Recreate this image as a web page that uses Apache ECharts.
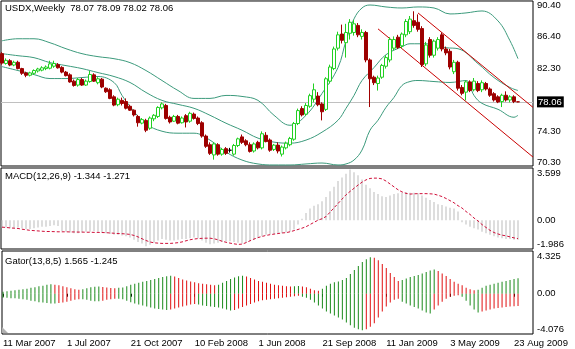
<!DOCTYPE html>
<html><head><meta charset="utf-8">
<script src="https://cdn.jsdelivr.net/npm/echarts@6/dist/echarts.min.js"></script>
<style>html,body{margin:0;padding:0;background:#fff;}#c{width:575px;height:349px;}</style>
</head><body><div id="c"></div>
<script>
// weekly candles: [open, close, low, high]
const candles = [
[84.20,83.00,82.80,84.40],[82.95,83.35,82.80,83.60],[83.30,82.75,82.60,83.50],[82.75,83.10,82.60,83.30],[83.10,82.30,82.20,83.30],
[82.30,81.70,81.50,82.40],[81.75,81.45,81.20,81.90],[81.45,81.75,81.30,81.90],[81.70,82.05,81.50,82.20],[82.00,82.25,81.80,82.40],
[82.10,82.40,81.95,82.60],[82.30,82.50,82.10,82.70],[82.35,82.90,82.20,83.30],[82.60,82.95,82.40,83.30],[82.80,82.40,82.30,83.00],
[82.45,81.85,81.70,82.60],[81.85,81.40,81.30,82.00],[81.50,80.60,80.50,81.70],[80.70,80.15,80.00,80.90],[80.20,80.90,80.00,81.10],
[80.90,80.20,80.10,81.10],[80.20,80.70,80.10,80.90],[80.65,81.55,80.50,82.00],[81.50,80.70,80.60,81.70],[80.50,81.00,80.30,81.20],
[80.95,79.95,79.80,81.10],[79.80,79.35,79.20,79.90],[79.60,78.50,78.40,79.80],[78.70,77.65,77.50,78.90],[77.70,78.40,77.50,78.60],
[78.25,77.85,77.60,78.60],[78.10,77.25,77.10,78.50],[77.50,77.00,76.90,77.70],[77.00,76.40,76.20,77.10],[76.20,75.40,74.90,76.40],
[75.35,75.80,75.20,76.00],[75.70,74.45,74.20,75.90],[74.70,76.00,74.50,76.20],[75.90,76.35,75.60,76.50],[76.20,77.35,76.00,77.50],
[77.30,77.80,77.10,78.00],[77.60,75.95,75.80,77.80],[76.10,75.50,75.30,76.30],[75.60,76.20,75.50,76.40],[76.20,75.35,75.20,76.40],
[75.40,76.00,75.30,76.20],[76.30,75.50,74.80,76.50],[75.60,76.60,75.40,76.80],[76.50,75.95,75.80,76.70],[76.00,75.30,75.10,76.20],
[75.40,73.70,73.50,75.60],[73.70,72.40,72.20,73.90],[72.60,71.50,71.30,72.90],[71.30,72.70,70.70,72.90],[72.60,71.40,71.20,72.80],
[71.40,72.00,71.20,72.20],[72.10,71.50,71.30,72.30],[71.90,71.90,71.60,72.20],[71.40,72.50,71.20,72.70],[72.50,73.35,72.30,73.50],
[73.60,72.90,72.70,73.90],[73.10,72.60,72.40,73.30],[72.60,71.75,71.60,72.90],[71.80,72.70,71.60,72.90],[72.90,72.20,72.00,73.10],
[72.20,74.00,72.00,74.30],[73.80,73.00,72.90,74.20],[73.20,71.90,71.70,73.40],[72.00,72.55,71.80,72.70],[72.55,71.80,71.50,72.90],
[71.40,72.30,71.10,72.50],[72.20,72.80,72.00,73.00],[72.60,73.40,72.40,73.60],[73.30,75.30,73.10,75.50],[75.30,76.95,75.10,77.20],
[77.20,76.40,76.20,77.50],[76.50,77.60,76.30,77.90],[77.50,78.85,77.30,79.10],[78.40,79.60,78.00,80.40],[78.80,77.70,77.50,79.30],
[77.80,76.80,75.70,78.00],[77.10,81.00,76.90,81.20],[80.70,82.50,80.40,82.80],[82.30,84.80,82.10,85.10],[84.90,86.60,84.60,87.00],
[86.70,85.90,85.50,87.90],[85.60,86.90,83.70,88.00],[86.80,88.20,86.00,88.60],[86.90,88.00,86.50,88.50],[87.80,86.60,86.30,88.10],
[86.40,86.90,86.00,87.30],[86.90,83.40,83.10,87.10],[83.40,81.00,77.40,83.60],[81.20,80.50,80.20,81.40],[80.40,81.10,79.50,81.40],
[81.20,82.70,81.00,82.90],[82.60,83.70,82.30,84.00],[83.40,86.00,83.10,86.30],[84.90,86.00,84.60,86.40],[86.30,85.00,84.80,86.60],
[85.20,86.70,84.90,86.90],[86.60,88.30,86.30,88.60],[87.00,88.60,86.70,89.00],[88.40,87.80,87.50,89.60],[88.20,87.30,87.00,89.20],
[87.40,82.80,82.50,87.70],[82.90,85.30,82.60,85.70],[86.00,84.00,83.70,86.30],[84.00,85.80,83.70,86.00],[84.90,86.00,84.60,86.30],
[86.60,84.80,84.50,86.90],[84.80,84.30,84.00,85.10],[84.50,82.50,82.20,84.80],[81.90,83.10,81.60,83.40],[83.10,79.80,79.50,83.30],
[79.90,79.15,78.90,80.20],[79.30,80.60,78.25,80.80],[80.60,79.50,79.30,80.80],[79.60,80.70,79.40,81.10],[80.40,79.50,79.30,80.70],
[79.60,80.50,79.30,80.80],[80.40,79.70,79.50,80.60],[79.70,78.90,78.70,79.90],[79.10,78.30,78.10,79.30],[78.70,78.05,77.90,78.90],
[78.10,78.90,77.40,79.10],[78.90,78.30,78.10,79.40],[78.30,78.70,78.00,78.90],[78.70,78.10,77.90,78.90],[78.07,78.06,78.02,78.09]
];

// Bollinger band readings: [bar index, price]
const bbUpper = [[0,85.84],[4,86.10],[8,86.10],[12,85.59],[16,84.83],[20,84.20],[24,83.82],[28,83.56],[32,83.06],[36,82.05],[40,80.78],[44,79.51],[48,78.50],[52,78.50],[56,78.88],[60,78.75],[64,78.25],[68,76.35],[72,75.08],[76,76.35],[80,79.13],[84,82.43],[86,85.84],[88,88.63],[90,90.02],[92,90.40],[96,90.15],[100,90.02],[104,90.15],[108,90.02],[112,89.26],[116,89.39],[120,89.64],[124,88.37],[127,85.84],[129,83.56]];
const bbMiddle = [[0,84.20],[4,83.94],[8,83.69],[12,83.06],[16,82.68],[20,82.30],[24,81.79],[28,81.29],[32,80.53],[36,79.26],[40,78.25],[44,77.74],[48,77.24],[52,76.35],[56,75.34],[60,74.45],[64,73.44],[68,72.93],[72,72.80],[76,73.19],[80,74.20],[84,75.72],[86,77.24],[88,78.88],[90,80.78],[93,82.43],[96,84.07],[100,85.08],[102,85.46],[106,85.46],[111,84.96],[114,84.83],[119,82.93],[123,81.16],[127,79.89],[129,79.51]];
const bbLower = [[0,82.55],[4,82.05],[8,81.54],[12,81.03],[16,81.03],[20,81.16],[24,81.29],[28,80.53],[30,78.88],[32,77.49],[34,76.22],[36,75.21],[40,74.32],[44,74.07],[48,74.07],[52,73.19],[56,71.67],[60,70.65],[64,70.15],[68,70.02],[72,70.02],[76,70.15],[80,70.27],[84,70.02],[86,70.15],[88,70.65],[90,71.92],[92,74.45],[94,75.72],[96,77.36],[98,78.63],[100,80.15],[102,80.65],[104,80.78],[108,80.65],[112,80.53],[116,80.78],[118,78.88],[120,77.87],[124,77.11],[128,76.10],[129,76.35]];

// trend channel (two parallel red lines): [bar index, price]
const channelUpper = [[104,89.39],[132.75,77.36]];
const channelLower = [[94,87.36],[132.75,71.03]];

// MACD(12,26,9)
const macdMain = [
-0.50,-0.50,-0.55,-0.55,-0.50,-0.55,-0.60,-0.60,-0.55,-0.50,-0.45,-0.45,-0.40,-0.35,-0.40,
-0.75,-0.80,-0.85,-0.90,-0.90,-0.85,
-0.80,-0.80,-0.75,-0.80,-0.85,-0.90,-0.95,-1.00,-1.00,-1.05,
-1.10,-1.20,-1.35,-1.50,-1.60,-1.80,-1.70,-1.55,-1.40,-1.30,
-1.35,-1.40,-1.40,-1.35,-1.30,-1.30,-1.25,-1.20,-1.25,-1.40,-1.55,-1.65,
-1.60,-1.55,-1.50,-1.45,-1.45,-1.50,-1.55,-1.60,-1.55,-1.45,
-1.35,-1.20,-1.10,-1.00,-0.95,-0.95,-0.90,-0.90,-0.85,-0.80,-0.65,-0.30,
0.10,0.50,0.80,1.00,1.10,1.30,1.60,2.00,2.30,2.70,2.95,
3.20,3.50,3.30,3.10,2.80,2.45,2.20,1.95,1.80,1.65,
1.60,1.70,1.80,1.85,1.90,1.95,1.90,1.90,1.85,1.70,1.55,1.40,
1.25,1.10,1.05,0.95,0.85,0.80,0.60,
-0.15,-0.30,-0.45,-0.55,-0.65,-0.80,-0.90,-1.00,-1.10,-1.20,-1.25,-1.30,-1.30,-1.34,-1.344];
const macdSignal = [
-0.48,-0.50,-0.53,-0.55,-0.57,-0.62,-0.66,-0.70,-0.72,-0.74,
-0.76,-0.78,-0.78,-0.79,-0.80,-0.80,-0.80,-0.81,-0.81,-0.82,
-0.82,-0.83,-0.83,-0.84,-0.84,-0.85,-0.86,-0.88,-0.90,-0.92,
-0.93,-0.95,-0.98,-1.05,-1.15,-1.28,-1.40,-1.50,-1.56,-1.58,
-1.60,-1.60,-1.60,-1.58,-1.55,-1.50,-1.42,-1.35,-1.30,-1.27,
-1.25,-1.24,-1.24,-1.28,-1.35,-1.45,-1.52,-1.58,-1.63,-1.67,
-1.65,-1.55,-1.42,-1.30,-1.20,-1.12,-1.05,-1.00,-0.96,-0.92,
-0.88,-0.86,-0.80,-0.72,-0.64,-0.55,-0.45,-0.30,-0.15,0.00,
0.10,0.25,0.55,0.85,1.15,1.45,1.75,1.98,2.20,2.42,
2.62,2.78,2.88,2.90,2.90,2.85,2.70,2.50,2.30,2.10,
1.95,1.85,1.80,1.82,1.83,1.83,1.83,1.82,1.80,1.72,
1.63,1.50,1.35,1.20,1.00,0.84,0.60,0.40,0.15,-0.05,
-0.30,-0.50,-0.70,-0.85,-0.95,-1.03,-1.08,-1.15,-1.22,-1.271];

// Gator(13,8,5)
const gatorUpper = [
0.20,0.25,0.30,0.35,0.40, 0.45,0.50,0.60,0.65,0.75,0.80,0.90, 0.95,0.90,0.85,0.75,0.65, 0.55,0.45,0.40,0.45,
0.55,0.65,0.70,0.72, 0.68,0.62,0.58,0.55,0.60,0.62, 0.75,0.90,1.00,1.10,1.20,1.30,1.40,1.50,1.60,1.70,1.78,
1.82,1.75,1.60, 1.45,1.35,1.25,1.15,1.05,1.00,0.95,0.90,0.85, 0.90,1.10,1.30,1.50, 1.65,1.78,1.82,1.75,
1.60,1.45,1.30, 1.20,1.10,1.00,0.90,0.85,0.80,0.75,0.72, 0.75,0.78,0.72,0.65, 0.50,0.35,0.30,0.50,
0.80,1.00,1.15,1.25,1.40, 1.60,2.00,2.40,2.80,3.20, 3.50,3.70,3.65, 3.40,3.00,2.60,2.10, 1.70,1.30,
1.40,1.55,1.70,1.80, 1.90,2.05,2.20,2.35,2.45, 2.30,2.05,1.80,1.50,1.20,1.00,0.85, 0.60,0.45,0.35,0.40,
0.60,0.80,0.90,1.00, 1.10,1.20,1.30,1.40,1.50,1.565];
const gatorLower = [
-0.40,-0.40,-0.45,-0.45,-0.50, -0.55,-0.60,-0.70,-0.75,-0.85,-0.90,-0.95, -1.00,-1.00,-0.95,-0.90,-0.80, -0.70,-0.60,-0.55,-0.55,
-0.60,-0.70,-0.75,-0.75, -0.70,-0.60,-0.55,-0.50,-0.50,-0.55, -0.70,-0.85,-1.00,-1.10,-1.20,-1.30,-1.40,-1.50,-1.55,-1.60,-1.65,
-1.60,-1.50,-1.40, -1.30,-1.20,-1.10,-1.05,-1.10,-1.20,-1.25,-1.30,-1.35, -1.40,-1.50,-1.60,-1.70, -1.65,-1.50,-1.35,-1.20,
-1.05,-0.90,-0.75, -0.65,-0.60,-0.55,-0.50,-0.45,-0.40,-0.35,-0.30, -0.25,-0.20,-0.30,-0.40, -0.60,-0.90,-1.20,-1.50,
-1.80,-2.00,-2.20,-2.40,-2.60, -2.90,-3.20,-3.45,-3.60,-3.70, -3.60,-3.35,-3.00, -2.40,-1.80,-1.30,-0.90, -0.60,-0.50,
-0.80,-1.00,-1.20,-1.35, -1.50,-1.70,-1.90,-2.00,-1.60, -1.20,-0.80,-0.50,-0.30,-0.20,-0.15,-0.30, -0.70,-1.20,-1.60,-1.90,
-1.80,-1.70,-1.60,-1.50, -1.45,-1.40,-1.35,-1.30,-1.27,-1.245];

// axis ticks
const dateTickBars = [0,16,32,48,64,80,96,112,128];
const dateTickLabels = ['11 Mar 2007','1 Jul 2007','21 Oct 2007','10 Feb 2008','1 Jun 2008','21 Sep 2008','11 Jan 2009','3 May 2009','23 Aug 2009'];
const priceTicks = [70.30,74.30,82.30,86.40,90.40];
const lastPrice = 78.06;
const macdMax = 3.599, macdMin = -1.986;
const gatorMax = 4.325, gatorMin = -4.076;

const FONT = 'Liberation Sans, Arial, sans-serif';
const FS = 9.5;
const xMin = -0.25, xMax = 132.75;
const idx = a => a.map((v,i)=>[i,v]);

const chart = echarts.init(document.getElementById('c'), null, {renderer:'canvas'});

function xAx(gridIndex, withLabels){
  return {type:'value', gridIndex, min:xMin, max:xMax,
    axisLine:{show:false}, splitLine:{show:false},
    axisTick: withLabels ? {show:true, customValues:dateTickBars, length:3, lineStyle:{color:'#000'}} : {show:false},
    axisLabel: withLabels ? {show:true, customValues:dateTickBars, align:'left', margin:4, color:'#000', fontSize:FS, fontFamily:FONT,
      formatter:v=>{const k=dateTickBars.indexOf(Math.round(v)); return k>=0?dateTickLabels[k]:'';}} : {show:false}};
}
function yAx(gridIndex, min, max, ticks, fmt, vAlign){
  return {type:'value', gridIndex, position:'right', min, max,
    axisLine:{show:false}, splitLine:{show:false}, axisTick:{show:false},
    axisLabel:{show:true, customValues:ticks, margin:4, color:'#000', fontSize:FS, fontFamily:FONT, formatter:fmt,
      verticalAlign:vAlign||'middle',
      rich:{cur:{backgroundColor:'#000', color:'#fff', fontSize:FS, fontFamily:FONT, padding:[1,2,0,1]}}}};
}
const gridBase = {left:1, width:532, show:true, borderColor:'#000', borderWidth:1, backgroundColor:'transparent'};
const GREEN='#1a8a1a', RED='#e01010';
const f2 = v=>Math.abs(v)<1e-9?'0.00':v.toFixed(2);
const f3 = v=>v.toFixed(3);

const option = {
  animation:false,
  grid:[
    Object.assign({top:0, height:166}, gridBase),
    Object.assign({top:168, height:81}, gridBase),
    Object.assign({top:251, height:83}, gridBase)
  ],
  xAxis:[xAx(0,false), xAx(1,false), xAx(2,true)],
  yAxis:[
    yAx(0, 69.89, 90.91, priceTicks.concat([lastPrice]), v=>Math.abs(v-lastPrice)<1e-6?'{cur|'+lastPrice.toFixed(2)+'}':v.toFixed(2)),
    yAx(1, macdMin, macdMax, [0], f2),
    yAx(1, macdMin, macdMax, [macdMax], f3, 'top'),
    yAx(1, macdMin, macdMax, [macdMin], f3, 'bottom'),
    yAx(2, gatorMin, gatorMax, [0], f2),
    yAx(2, gatorMin, gatorMax, [gatorMax], f3, 'top'),
    yAx(2, gatorMin, gatorMax, [gatorMin], f3, 'bottom')
  ],
  series:[
    {type:'line', xAxisIndex:0, yAxisIndex:0, data:bbUpper, symbol:'none', smooth:0.4, lineStyle:{color:'#3c9a7c', width:1}, z:2},
    {type:'line', xAxisIndex:0, yAxisIndex:0, data:bbMiddle, symbol:'none', smooth:0.4, lineStyle:{color:'#3c9a7c', width:1}, z:2},
    {type:'line', xAxisIndex:0, yAxisIndex:0, data:bbLower, symbol:'none', smooth:0.4, lineStyle:{color:'#3c9a7c', width:1}, z:2},
    {type:'line', xAxisIndex:0, yAxisIndex:0, data:channelUpper, symbol:'none', lineStyle:{color:'#c80000', width:1}, z:3},
    {type:'line', xAxisIndex:0, yAxisIndex:0, data:channelLower, symbol:'none', lineStyle:{color:'#c80000', width:1}, z:3},
    {type:'candlestick', xAxisIndex:0, yAxisIndex:0, barWidth:3, z:4,
      data:candles.map((c,i)=>[i,c[0],c[1],c[2],c[3]]),
      itemStyle:{color:'#ffffff', color0:'#9a0000', borderColor:'#22d022', borderColor0:'#a00000', borderColorDoji:'#000000', borderWidth:1},
      markLine:{silent:true, symbol:'none', label:{show:false}, lineStyle:{color:'#c0c0c0', width:1, type:'solid'}, data:[{yAxis:lastPrice}], z:1}},
    {type:'bar', xAxisIndex:1, yAxisIndex:1, data:idx(macdMain), barWidth:1, itemStyle:{color:'#bcbcbc'}},
    {type:'line', xAxisIndex:1, yAxisIndex:1, data:idx(macdSignal), symbol:'none', lineStyle:{color:'#d0103a', width:1, type:[3,2]}},
    {type:'bar', xAxisIndex:2, yAxisIndex:4, data:idx(gatorUpper), barWidth:1,
      itemStyle:{color:p=>{const i=p.dataIndex; return (i===0||gatorUpper[i]>=gatorUpper[i-1])?GREEN:RED;}}},
    {type:'bar', xAxisIndex:2, yAxisIndex:4, data:idx(gatorLower), barWidth:1, barGap:'-100%',
      itemStyle:{color:p=>{const i=p.dataIndex; return (i===0||Math.abs(gatorLower[i])>=Math.abs(gatorLower[i-1]))?GREEN:RED;}}}
  ],
  graphic:[
    {type:'text', left:5, top:3, style:{text:'USDX,Weekly  78.07 78.09 78.02 78.06', fill:'#000', font:FS+'px '+FONT}},
    {type:'text', left:5, top:171, style:{text:'MACD(12,26,9) -1.344 -1.271', fill:'#000', font:FS+'px '+FONT}},
    {type:'text', left:5, top:256, style:{text:'Gator(13,8,5) 1.565 -1.245', fill:'#000', font:FS+'px '+FONT}},
    {type:'polygon', shape:{points:[[2,327],[2,333],[8,333]]}, style:{fill:'#b0b0b0'}}
  ]
};
chart.setOption(option);
</script></body></html>
